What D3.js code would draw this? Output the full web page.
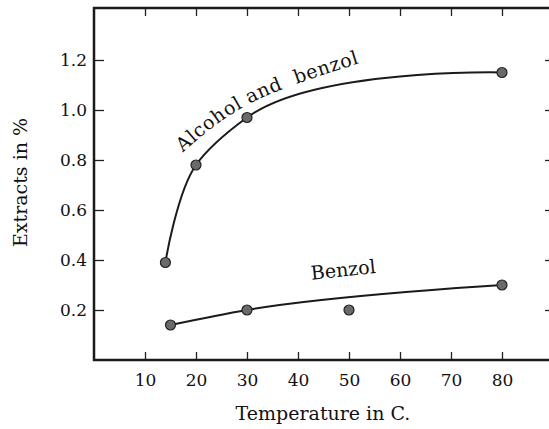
<!DOCTYPE html>
<html>
<head>
<meta charset="utf-8">
<script src="https://cdn.jsdelivr.net/npm/d3@7"></script>
<style>
  body { margin: 0; background: #fff; }
  svg { display: block; font-family: "DejaVu Serif", serif; }
</style>
</head>
<body>
<div id="chart"></div>
<script>
// values
var alcoholTemps = [14, 20, 30, 80],
    alcoholExtracts = [0.39, 0.78, 0.97, 1.15],
    benzolTemps = [15, 30, 80],
    benzolExtracts = [0.14, 0.20, 0.30],
    strayTemps = [50],
    strayExtracts = [0.20],
    xTicks = [10, 20, 30, 40, 50, 60, 70, 80],
    yTicks = [0.2, 0.4, 0.6, 0.8, 1.0, 1.2];

var width = 549,
    height = 429;

var alcohol = alcoholTemps.map(function(t, i){ return {T: t, E: alcoholExtracts[i]}; }),
    benzol = benzolTemps.map(function(t, i){ return {T: t, E: benzolExtracts[i]}; }),
    stray = strayTemps.map(function(t, i){ return {T: t, E: strayExtracts[i]}; });

var svg = d3.select("#chart")
            .append("svg")
              .attr("width", width)
              .attr("height", height);

var x = d3.scaleLinear().domain([0, 90]).range([94, 553]),
    y = d3.scaleLinear().domain([0, 1.408]).range([360, 8]);

// inward ticks on all four sides
svg.append("g")
    .attr("transform", "translate(" + x(0) + ",0)")
    .call(d3.axisLeft(y).tickValues(yTicks).tickSize(-10).tickPadding(7)
            .tickFormat(d3.format(".1f")))
    .call(function(g){ g.select(".domain").remove(); })
    .style("font", "17px 'DejaVu Serif'");

svg.append("g")
    .attr("transform", "translate(" + x(90) + ",0)")
    .call(d3.axisRight(y).tickValues(yTicks).tickSize(-8).tickFormat(""))
    .call(function(g){ g.select(".domain").remove(); });

svg.append("g")
    .attr("transform", "translate(0," + y(0) + ")")
    .call(d3.axisBottom(x).tickValues(xTicks).tickSize(-8).tickPadding(14))
    .call(function(g){ g.select(".domain").remove(); })
    .style("font", "17px 'DejaVu Serif'");

svg.append("g")
    .attr("transform", "translate(0," + y(1.408) + ")")
    .call(d3.axisTop(x).tickValues(xTicks).tickSize(-8).tickFormat(""))
    .call(function(g){ g.select(".domain").remove(); });

svg.selectAll(".tick line").style("stroke", "#222").style("stroke-width", 1.3);
svg.selectAll(".tick text").style("fill", "#111");

svg.append("rect")
    .attr("x", x(0))
    .attr("y", y(1.408))
    .attr("width", x(90) - x(0))
    .attr("height", y(0) - y(1.408))
    .style("fill", "none")
    .style("stroke", "#1a1a1a")
    .style("stroke-width", 2.5);

var line = d3.line()
    .x(function(d){ return x(d.T); })
    .y(function(d){ return y(d.E); })
    .curve(d3.curveCatmullRom.alpha(1));

svg.append("path")
    .datum(alcohol)
    .attr("d", line)
    .style("fill", "none")
    .style("stroke", "#1a1a1a")
    .style("stroke-width", 2);

svg.append("path")
    .datum(benzol)
    .attr("d", line)
    .style("fill", "none")
    .style("stroke", "#1a1a1a")
    .style("stroke-width", 2);

svg.selectAll(".pt")
    .data(alcohol.concat(benzol, stray))
    .enter().append("circle")
      .attr("class", "pt")
      .attr("cx", function(d){ return x(d.T); })
      .attr("cy", function(d){ return y(d.E); })
      .attr("r", 5)
      .style("fill", "#6a6a6a")
      .style("stroke", "#222")
      .style("stroke-width", 1.2);

// curved label above the upper curve
var labelLine = d3.line()
    .x(function(d){ return x(d[0]); })
    .y(function(d){ return y(d[1]); })
    .curve(d3.curveNatural);

svg.append("path")
    .attr("id", "alcPath")
    .attr("d", labelLine([[17.4, 0.83], [31, 1.03], [52.5, 1.19]]))
    .style("fill", "none");

svg.append("text")
    .style("font-size", "19px")
    .style("fill", "#111")
    .style("white-space", "pre")
  .append("textPath")
    .attr("href", "#alcPath")
    .attr("textLength", 200)
    .attr("lengthAdjust", "spacing")
    .text("Alcohol and  benzol");

svg.append("text")
    .attr("transform", "translate(" + x(49) + "," + y(0.335) + ") rotate(-6)")
    .attr("text-anchor", "middle")
    .style("font-size", "19px")
    .style("fill", "#111")
    .text("Benzol");

svg.append("text")
    .attr("x", 323)
    .attr("y", 420)
    .attr("text-anchor", "middle")
    .style("font-size", "19px")
    .style("fill", "#111")
    .text("Temperature in C.");

svg.append("text")
    .attr("transform", "translate(27," + y(0.71) + ") rotate(-90)")
    .attr("text-anchor", "middle")
    .style("font-size", "19px")
    .style("fill", "#111")
    .text("Extracts in %");
</script>
</body>
</html>
